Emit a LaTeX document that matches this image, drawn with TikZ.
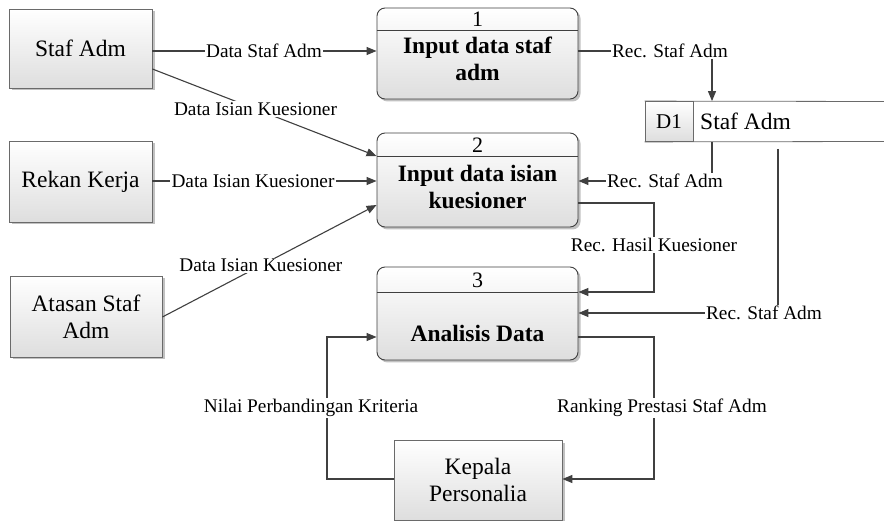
\documentclass[tikz,border=0pt]{standalone}
\usepackage{fontspec}
\setmainfont{Liberation Serif}
\usetikzlibrary{arrows.meta,shadows,calc}
\definecolor{ln}{HTML}{404040}
\definecolor{bd}{HTML}{6A6A6A}
\newcommand\dfdBig{\fontsize{23.5}{27}\selectfont}
\newcommand\dfdSmall{\fontsize{19.3}{22}\selectfont}
\begin{document}
\begin{tikzpicture}[x=1pt,y=-1pt,
  shd/.style={drop shadow={shadow xshift=2.5pt,shadow yshift=-2.5pt,fill=black!40,opacity=0.6}},
  ext/.style={draw=bd,line width=0.8pt,top color=white,bottom color=black!13,shd,align=center,font=\dfdBig,inner sep=0pt},
  proc/.style={draw=ln,line width=0.9pt,rounded corners=8pt,top color=white,bottom color=black!13,shd,inner sep=0pt,minimum width=201pt},
  ttl/.style={font=\dfdBig\bfseries,align=center,inner sep=0pt},
  num/.style={font=\fontsize{22}{24}\selectfont,inner sep=0pt},
  lbl/.style={font=\dfdSmall,inner sep=1.2pt},
  wire/.style={draw=ln,line width=1.1pt},
  flow/.style={wire,-{Triangle[length=10pt,width=8pt]}},
]
\useasboundingbox (0,0) rectangle (884,521);
\fill[white] (0,0) rectangle (884,521);

% coordinates for routing
\coordinate (y30) at (0,30);
\coordinate (y51) at (0,51);
\coordinate (y69) at (0,69);
\coordinate (y156) at (0,156);
\coordinate (y181) at (0,181);
\coordinate (y203) at (0,203);
\coordinate (y205) at (0,205);
\coordinate (y292) at (0,292);
\coordinate (y317) at (0,317);
\coordinate (y337) at (0,337);
\coordinate (y479) at (0,479);
\coordinate (x327) at (327,0);
\coordinate (x654) at (654,0);
\coordinate (x712) at (712,0);
\coordinate (s2) at (778,149);

% external entities
\node[ext,minimum width=143pt,minimum height=79pt] (staf) at (80.5,48.5) {Staf Adm};
\node[ext,minimum width=143pt,minimum height=81pt] (rekan) at (80.5,181.5) {Rekan Kerja};
\node[ext,minimum width=152pt,minimum height=81pt] (atasan) at (86,316.5) {Atasan Staf\\Adm};
\node[ext,minimum width=168pt,minimum height=80pt] (kepala) at (478,480) {Kepala\\Personalia};

% processes
\node[proc,minimum height=91pt] (p1) at (477.5,53.5) {};
\draw[draw=ln,line width=0.9pt] (p1.west |- y30) -- (p1.east |- y30);
\node[num] (n1) at (477.5,19) {1};
\node[ttl] (t1) at (477.5,58.5) {Input data staf\\adm};

\node[proc,minimum height=94pt] (p2) at (477.5,180) {};
\coordinate (h2) at (0,156);
\draw[draw=ln,line width=0.9pt] (p2.west |- h2) -- (p2.east |- h2);
\node[num] (n2) at (477.5,145) {2};
\node[ttl] (t2) at (477.5,186.5) {Input data isian\\kuesioner};

\node[proc,minimum height=93pt] (p3) at (477.5,313.5) {};
\draw[draw=ln,line width=0.9pt] (p3.west |- y292) -- (p3.east |- y292);
\node[num] (n3) at (477.5,280) {3};
\node[ttl] (t3) at (477.5,333) {Analisis Data};

% data store
\node[draw=bd,line width=0.8pt,top color=white,bottom color=black!13,minimum width=48pt,minimum height=40pt,inner sep=0pt,font=\fontsize{21}{24}\selectfont] (d1) at (669,121.5) {D1};
\coordinate (se1) at (884,101.5);
\coordinate (se2) at (884,141.5);
\draw[draw=bd,line width=0.8pt] (d1.north west) -- (se1);
\draw[draw=bd,line width=0.8pt] (d1.south west) -- (se2);
\node[font=\dfdBig,anchor=west,inner sep=0pt] (dn) at (700,121.5) {Staf Adm};

% flows
\node[lbl] (la) at (264,51) {Data Staf Adm};
\draw[wire] (staf.east |- y51) -- (la.west);
\draw[flow] (la.east) -- (p1.west |- y51);

\draw[flow] (staf.east |- y69) -- node[lbl,fill=white,pos=0.46] (lb) {Data Isian Kuesioner} (p2.west |- y156);

\node[lbl] (lc) at (253,181) {Data Isian Kuesioner};
\draw[wire] (rekan.east |- y181) -- (lc.west);
\draw[flow] (lc.east) -- (p2.west |- y181);

\draw[flow] (atasan.east |- y317) -- node[lbl,fill=white,pos=0.46] (ld) {Data Isian Kuesioner} (p2.west |- y205);

\node[lbl] (le) at (670,51) {Rec. Staf Adm};
\draw[wire] (p1.east |- y51) -- (le.west);
\draw[flow] (le.south -| x712) -- (x712 |- d1.north);

\node[lbl] (lf) at (665,181) {Rec. Staf Adm};
\draw[wire] (x712 |- d1.south) -- (lf.north -| x712);
\draw[flow] (lf.west) -- (p2.east |- lf.west);

\node[lbl] (lg) at (654,245) {Rec. Hasil Kuesioner};
\draw[wire] (p2.east |- y203) -| (lg.north);
\draw[flow] (lg.south) |- (p3.east |- y292);

\node[lbl] (lh) at (764,313) {Rec. Staf Adm};
\draw[wire] (s2) -- (lh.north -| s2);
\draw[flow] (lh.west) -- (p3.east |- lh.west);

\node[lbl] (li) at (662,408) {Ranking Prestasi Staf Adm};
\draw[wire] (p3.east |- y337) -| (li.north -| x654);
\draw[flow] (li.south -| x654) |- (kepala.east |- y479);

\node[lbl] (lj) at (311,408) {Nilai Perbandingan Kriteria};
\draw[wire] (kepala.west |- y479) -| (lj.south -| x327);
\draw[flow] (lj.north -| x327) |- (p3.west |- y337);
\end{tikzpicture}
\end{document}
